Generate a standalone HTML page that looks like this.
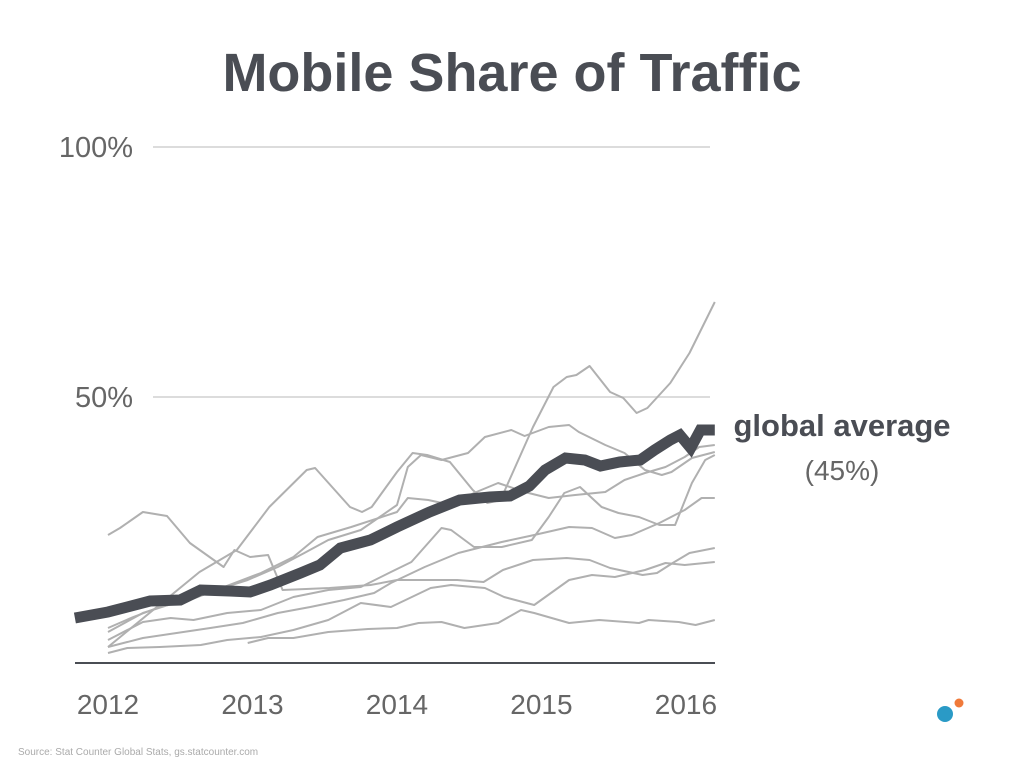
<!DOCTYPE html>
<html><head><meta charset="utf-8"><style>
body{margin:0;background:#fff;width:1024px;height:768px;overflow:hidden;font-family:"Liberation Sans",sans-serif}
svg{display:block}
</style></head><body>
<svg id="chart" width="1024" height="768" viewBox="0 0 1024 768">
<text x="512" y="91" text-anchor="middle" font-size="54" font-weight="bold" fill="#4a4d54">Mobile Share of Traffic</text>
<g id="grid"></g><g id="series"></g><g id="labels"></g>
<text x="842" y="436" text-anchor="middle" font-size="31" font-weight="bold" fill="#4a4d54">global average</text>
<text x="842" y="480" text-anchor="middle" font-size="28" fill="#666">(45%)</text>
<text x="18" y="755" font-size="10" fill="#aaa">Source: Stat Counter Global Stats, gs.statcounter.com</text>
<circle cx="945" cy="714" r="8" fill="#2a9ac6"/>
<circle cx="959" cy="703" r="4.5" fill="#f07a3a"/>
</svg>
<script>
const yTicks=[100,50];
const yTickLabels=["100%","50%"];
const years=[2012,2013,2014,2015,2016];
const globalMonths=[-2.75,0,3.5,6,7.7,10.1,11.8,13.5,16,17.6,19.3,21.8,24,26.7,29.2,31.7,33.4,35,36.3,38,39.6,40.9,42.5,44.2,45.4,46.7,47.5,48.4,49.2,50.4];
const globalValues=[5.8,7,9.2,9.4,11.4,11.2,11,12.4,14.8,16.4,19.8,21.4,24,27,29.4,30,30.2,32.2,35.4,37.8,37.4,36.2,37,37.4,39.4,41.4,42.4,39.8,43.4,43.4];
const aMonths=[0,7.6,10.7,13.4,16.5,17.2,20.1,21.1,21.9,24,25.3,26.5,28.4,30.3,31.5,32.6,35.3,37,38.1,38.9,40,41.7,42.8,43.9,44.8,46.7,48.3,50.4];
const aValues=[0,15,19.4,28,35.4,35.8,28,27,28,35,38.8,38.4,37,31.4,28.8,29.4,44,52,54,54.4,56.2,51,49.8,46.8,47.8,52.8,58.8,69];
const bMonths=[0,1,2.9,4.9,6.8,9.6,10.5,11.8,13.3,14.5,18.4,21.8,24,26.5,29,31.2,32.8,35.3,38.1,40,41.7,44.4,45.6,46.9,48.3,50.4];
const bValues=[22.4,23.8,27,26.2,20.8,16,19.4,18,18.4,11.4,11.8,12.4,13.4,13.4,13.4,13,15.4,17.4,17.8,17.4,15.8,14.4,14.8,16.8,18.8,19.8];
const cMonths=[0,2.9,6.8,11.6,14.1,16.3,18.3,21,24,24.9,26,27.7,29.9,31.3,33.5,34.6,36.6,38.3,39.1,41.3,42.9,44.6,46,46.8,48.5,50.4];
const cValues=[3,6.8,9.8,13.4,16,18.8,21.4,23.4,28.4,36,38.4,37.4,38.8,42,43.4,42.2,44,44.4,43,40.4,38.8,35.4,34.4,35,37.8,39];
const dMonths=[0,2.1,4.3,6.8,12.7,15.4,17.4,20.2,24,24.9,26.6,28.5,30.4,32.4,34.6,36.6,38.8,41.3,42.9,44.6,46.3,47.9,49.1,50.4];
const dValues=[3.8,6,8,9.4,14.8,18,22,24,27,29.8,29.4,28.4,30.8,32.8,31,29.8,30.4,31,33.4,34.8,36,38,40,40.4];
const eMonths=[0,2.9,5.2,7.1,9.9,12.7,15.4,18.3,21,23.5,25.2,27.7,28.5,30.4,32.7,35.2,36.6,37.9,39.2,41,42.4,44.1,45.8,47.1,48.5,49.6,50.4];
const eValues=[1.4,5,5.8,5.4,6.8,7.4,10,11.4,12,15,17,23.8,23.4,20,20,21.4,26,30.8,32,28,26.8,26,24.4,24.4,32.8,37.4,38.4];
const fMonths=[0,2.9,5.7,8.5,11.2,14.1,16.8,19.6,22.1,23.5,26.3,29.1,32.7,35.4,38.3,40.2,42.1,43.5,45.8,47.9,49.3,50.4];
const fValues=[0,1.8,2.8,3.8,4.8,6.8,8,9.4,10.8,12.8,16,18.8,21,22.4,24,23.8,21.8,22.4,24.8,27.4,29.8,29.8];
const hMonths=[0,1.6,4.3,7.7,9.9,12.7,15.4,18.3,21,23.5,26.8,28.5,31.3,32.9,35.4,38.3,40.2,42.1,44.6,46.3,47.9,50.4];
const hValues=[-1.2,-0.2,0,0.4,1.4,2,3.4,5.4,8.8,8,11.8,12.4,11.8,10,8.4,13.4,14.4,14,15.4,16.8,16.4,17];
const iMonths=[11.6,13.3,15.4,18.3,21.6,24,25.8,27.7,29.6,32.4,34.3,35.4,38.3,40.8,44.1,44.9,47.4,48.8,50.4];
const iValues=[0.8,1.8,1.8,3,3.6,3.8,4.8,5,3.8,4.8,7.4,6.8,4.8,5.4,4.8,5.4,5,4.4,5.4];

const NS="http://www.w3.org/2000/svg";
const X0=108,PXM=12.04,Y0=647,PXV=5;
function xs(m){return X0+m*PXM;}
function ys(v){return Y0-v*PXV;}
function mk(t,a,p){const e=document.createElementNS(NS,t);for(const k in a)e.setAttribute(k,a[k]);p.appendChild(e);return e;}
const grid=document.getElementById('grid'),labels=document.getElementById('labels'),series=document.getElementById('series');
yTicks.forEach((v,i)=>{
  const l=mk('line',{x1:153,x2:710,y1:ys(v),y2:ys(v),stroke:'#dcdcdc','stroke-width':2},grid);
  
  
  const t=mk('text',{x:133,y:ys(v)+10,'text-anchor':'end','font-size':29,fill:'#666'},labels);
  t.textContent=yTickLabels[i];
  
  
});
const ax=mk('line',{x1:75,x2:715,y1:663,y2:663,stroke:'#4a4d54','stroke-width':2},grid);


years.forEach(y=>{
  const t=mk('text',{x:xs((y-2012)*12),y:714,'text-anchor':'middle','font-size':28,fill:'#666'},labels);
  t.textContent=y;
  
  
});
const grays=[[aMonths,aValues],[bMonths,bValues],[cMonths,cValues],[dMonths,dValues],[eMonths,eValues],[fMonths,fValues],[hMonths,hValues],[iMonths,iValues]];
grays.forEach((s,k)=>{
  const pts=s[0].map((m,i)=>xs(m).toFixed(1)+','+ys(s[1][i]).toFixed(1)).join(' ');
  const p=mk('polyline',{points:pts,fill:'none',stroke:'#b0b0b0','stroke-width':2,'stroke-linejoin':'round'},series);
  
  
});
const gp=globalMonths.map((m,i)=>xs(m).toFixed(1)+','+ys(globalValues[i]).toFixed(1)).join(' ');
const g=mk('polyline',{points:gp,fill:'none',stroke:'#4a4d54','stroke-width':11,'stroke-linejoin':'miter'},series);


</script>
</body></html>
